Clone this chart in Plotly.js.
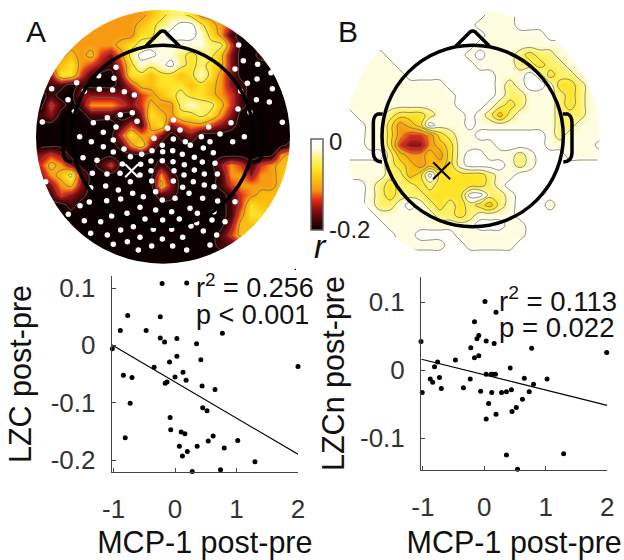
<!DOCTYPE html>
<html><head><meta charset="utf-8"><script src="https://cdn.plot.ly/plotly-3.0.1.min.js"></script>
<style>html,body{margin:0;padding:0;background:#fff}</style></head>
<body><div id="chart" style="width:624px;height:560px"></div>
<script>
// Topographic maps: each digit is a level, 0 = r of 0 (white) ... 9 = r of -0.2 (black)
const mapARows = [
"55555555555432235567777777","55555555554321002456777777","55555555553310001358999999","55555555432111111226999999",
"55545467520011232247998888","65435678631210232347999988","77336899733433431357999999","88898999864433343457899999",
"98997777786543233456899999","96898555676455212246899999","87999888997345332357999999","99999999868437655678999999",
"99999999635579879999999999","99999999853799999999999998","76799999999999999999999954","64579986999989999975686544",
"75427999999958999985575544","87547999999947999986555544","98678999999988999998654444","99989999999999999998634444",
"99999999999999999998533444","99999999999999999997444444","99999999999999999986444444","99999999999999999988766666",
"99999999999999999999999999","99999999999999999999999999"];
const mapBRows = [
"00000000000000111000000000","00000000000001111000000000","00000000000000111111000000","00000000000001111111111000",
"00110000000010111232211000","00111000000001111223221100","01111100000000011101322110","01111111110000012100133211",
"11111111111000012211123211","11111111111000123211123211","01112333211101242111122211","00113543011101111111122111",
"00113566532110000000121111","00113677543111100000111110","00002455453100111210001111","11112345443100001210000000",
"11112243033333211000000000","00123223233333210000000000","00123222333300221000000000","00122101232323421000100000",
"00011111122321111000000000","00001111111110001100000000","00000110000111111100000000","00000111110011111000000000",
"00000000000000000000000000","00000000000000000000000000"];
const mapAX = Array.from({length:26},(_,i)=>123+30*i);
const mapBX = Array.from({length:26},(_,i)=>150+30*i);
const mapY = Array.from({length:26},(_,j)=>45+30*j);

// Electrodes marked in map A
const dotX = [716,730,773,705,813,771,742,817,722,769,808,714,750,847,693,733,698,660,348,296,342,230,155,298,338,253,373,403,204,223,397,361,322,411,127,280,348,310,239,274,340,310,372,340,249,291,391,425,456,487,462,520,503,540,520,556,604,626,630,571,610,640,488,518,547,583,607,645,519,553,583,613,652,422,453,487,367,360,321,277,420,453,522,552,580,613,642,391,317,272,355,455,520,548,467,398,430,525,487,567,608,653,705,320,362,268,240,420,467,381,515,570,335,205,592,642,435,488,538,302,253,400,590,636,675,362,460,515,573,322,272,610,650,420,487,548,382,340,455,518,415,560,630,137];
const dotY = [135,182,193,207,218,237,250,266,273,299,306,327,337,367,368,410,425,402,202,227,235,248,266,268,270,274,275,285,299,335,338,344,353,364,366,368,381,397,410,425,420,440,447,456,473,481,470,463,452,436,415,360,385,390,417,425,410,381,425,436,444,458,455,452,463,472,486,490,485,494,510,522,522,493,483,482,492,520,522,520,525,512,512,525,545,555,560,545,558,563,570,543,543,562,575,580,590,595,600,580,595,603,605,602,597,606,617,622,630,640,635,625,648,643,640,635,657,660,657,665,662,680,668,660,665,690,688,688,678,705,700,693,705,712,717,712,725,733,738,738,750,750,735,545];
const crossA = {x:[395], y:[512]};
const crossB = {x:[425], y:[512]};

// Scatter A
const lzcX = [-1.04,-0.21,0.19,-0.77,-0.24,-0.89,-0.47,0.77,-0.24,-0.17,0.03,0.35,-1.02,0.03,-0.09,0.42,-0.34,2.0,-0.84,-0.70,0,0.13,0.18,-0.13,-0.16,0.44,0.65,-0.73,0.45,0.52,-0.08,-0.07,-0.81,0.10,0.16,0.62,0.54,1.02,0.07,0.36,0.80,0.20,0.12,1.30,0.28,0.74];
const lzcY = [0.118,0.108,0.109,0.052,0.050,0.026,0.026,0.021,0.013,0.006,0.012,0.003,-0.006,-0.019,-0.029,-0.025,-0.038,-0.037,-0.052,-0.056,-0.055,-0.047,-0.061,-0.064,-0.066,-0.071,-0.077,-0.101,-0.109,-0.114,-0.126,-0.147,-0.161,-0.151,-0.154,-0.158,-0.167,-0.166,-0.176,-0.176,-0.179,-0.185,-0.193,-0.203,-0.220,-0.217];
const lzcFitX = [-1.03,2], lzcFitY = [0.001,-0.19];
// Scatter B
const lzcnX = [-0.24,0.01,0.19,-0.16,-0.09,-0.12,-1.03,0.03,0.16,-0.22,0.77,1.99,-0.09,-0.16,-0.47,-0.76,-0.81,0.42,0.03,0.11,0.14,0.18,-0.73,-0.88,-0.84,-0.23,0.65,1.02,0.80,-0.70,-0.34,-0.06,0.12,0.28,0.36,0.44,0.73,-1.01,0.62,0.07,0.52,0.45,0.19,0.03,0.36,1.29,0.54];
const lzcnY = [0.138,0.101,0.085,0.071,0.051,0.046,0.042,0.043,0.039,0.033,0.032,0.026,0.021,0.018,0.015,0.012,0.005,0.003,-0.006,-0.006,-0.006,-0.006,-0.011,-0.013,-0.018,-0.013,-0.012,-0.013,-0.021,-0.027,-0.026,-0.031,-0.033,-0.033,-0.032,-0.029,-0.032,-0.033,-0.043,-0.049,-0.055,-0.061,-0.065,-0.072,-0.125,-0.123,-0.146];
const lzcnFitX = [-1.02,2], lzcnFitY = [0.016,-0.052];

const xTicks = [-1,0,1,2];
const font = 'Liberation Sans, Arial, sans-serif';
const heat = [[0,'#0c0000'],[0.11,'#400808'],[0.22,'#8a0f15'],[0.33,'#e02a18'],[0.44,'#f79a12'],[0.56,'#fcc010'],[0.67,'#fee428'],[0.78,'#fdf270'],[0.89,'#fffde0'],[1,'#ffffff']];
const toZ = rows => rows.map(r => r.split('').map(d => -Number(d)/45));

function mapTraces(rows, xs, xa, ya, lineStart, lineEnd, lineSize, showBar){
  const z = toZ(rows);
  const tr = [{type:'heatmap', x:xs, y:mapY, z, xaxis:xa, yaxis:ya, zmin:-0.2, zmax:0, zsmooth:'best', colorscale:heat, showscale:showBar,
    colorbar: showBar ? {thickness:12, thicknessmode:'pixels', len:91, lenmode:'pixels', x:311/624, xanchor:'left', y:1-139/560, yanchor:'top', xpad:0, ypad:0,
      tickmode:'array', tickvals:[-0.006,-0.2], ticktext:['0','-0.2'], ticks:'', ticklabelstandoff:8, outlinecolor:'#666', outlinewidth:1.5, tickfont:{family:font,size:24,color:'#222'}} : undefined},
    {type:'contour', x:xs, y:mapY, z, xaxis:xa, yaxis:ya, showscale:false, autocontour:false, contours:{coloring:'none', start:lineStart, end:lineEnd, size:lineSize},
      line:{color:'#666', width:0.7, smoothing:1.2}}];
  return tr;
}
function headShapes(xr, yr, cx, cy, dcx, dcy){
  const s = {xref:xr, yref:yr, layer:'above'};
  const black = {color:'#000', width:3.5};
  const R = 272;
  return [
    Object.assign({type:'circle', x0:dcx-471, x1:dcx+471, y0:dcy-471, y1:dcy+471, line:{color:'#fff', width:60}, fillcolor:'rgba(0,0,0,0)'}, s),
    Object.assign({type:'circle', x0:cx-R, x1:cx+R, y0:cy-R, y1:cy+R, line:black, fillcolor:'rgba(0,0,0,0)'}, s),
    Object.assign({type:'path', path:`M${cx-50},${cy-270} L${cx-8},${cy-312} Q${cx},${cy-318} ${cx+8},${cy-312} L${cx+50},${cy-270}`, line:black}, s),
    Object.assign({type:'path', path:`M${cx-270},${cy-66} L${cx-285},${cy-66} Q${cx-298},${cy-60} ${cx-298},${cy-40} L${cx-298},${cy+50} Q${cx-298},${cy+76} ${cx-272},${cy+78}`, line:black}, s),
    Object.assign({type:'path', path:`M${cx+270},${cy-66} L${cx+285},${cy-66} Q${cx+298},${cy-60} ${cx+298},${cy-40} L${cx+298},${cy+50} Q${cx+298},${cy+76} ${cx+272},${cy+78}`, line:black}, s)
  ];
}
const traces = [
  ...mapTraces(mapARows, mapAX, 'x', 'y', -8.5/45, -0.5/45, 2/45, false),
  {type:'scatter', mode:'markers', x:dotX, y:dotY, xaxis:'x', yaxis:'y', marker:{color:'#fff', size:5.5}},
  {type:'scatter', mode:'markers', x:crossA.x, y:crossA.y, xaxis:'x', yaxis:'y', marker:{symbol:'x-thin-open', color:'#fff', size:13, line:{color:'#fff', width:2}}},
  ...mapTraces(mapBRows, mapBX, 'x2', 'y2', -7.5/45, -0.5/45, 1/45, true),
  {type:'scatter', mode:'markers', x:crossB.x, y:crossB.y, xaxis:'x2', yaxis:'y2', marker:{symbol:'x-thin-open', color:'#000', size:17, line:{color:'#000', width:2}}},
  {type:'scatter', mode:'markers', x:lzcX, y:lzcY, xaxis:'x3', yaxis:'y3', cliponaxis:false, marker:{color:'#000', size:5}},
  {type:'scatter', mode:'lines', x:lzcFitX, y:lzcFitY, xaxis:'x3', yaxis:'y3', cliponaxis:false, line:{color:'#000', width:1.2}},
  {type:'scatter', mode:'markers', x:lzcnX, y:lzcnY, xaxis:'x4', yaxis:'y4', cliponaxis:false, marker:{color:'#000', size:5}},
  {type:'scatter', mode:'lines', x:lzcnFitX, y:lzcnFitY, xaxis:'x4', yaxis:'y4', cliponaxis:false, line:{color:'#000', width:1.2}}
];
const topAxis = d => ({domain:d, range:[0,930], visible:false, fixedrange:true});
const plainAxis = {showgrid:false, zeroline:false, showline:true, linecolor:'#444', linewidth:1, ticks:'inside', ticklen:4, tickcolor:'#444', tickfont:{family:font,size:26,color:'#333'}, automargin:false};
const xAx = (dom, ya, rng) => Object.assign({}, plainAxis, {domain:dom, anchor:ya, range:rng, tickmode:'array', tickvals:xTicks, ticktext:['-1','0','1','2'], ticklabelstandoff:14,
  title:{text:'MCP-1 post-pre', font:{family:font,size:30.5,color:'#111'}, standoff:10}});
const yAx = (dom, xa, rng, vals, txt, title, so) => Object.assign({}, plainAxis, {domain:dom, anchor:xa, range:rng, tickmode:'array', tickvals:vals, ticktext:txt, ticklabelstandoff:10,
  title:{text:title, font:{family:font,size:30.5,color:'#111'}, standoff:so}});
const ann = (t, x, y, size, extra) => Object.assign({text:t, xref:'paper', yref:'paper', x:x/624, y:1-y/560, xanchor:'left', yanchor:'middle', showarrow:false, font:{family:font,size:size,color:'#111'}}, extra||{});
const layout = {
  width:624, height:560, margin:{l:0,r:0,t:0,b:0}, paper_bgcolor:'#fff', plot_bgcolor:'rgba(0,0,0,0)', showlegend:false, font:{family:font},
  xaxis:Object.assign(topAxis([0,310/624]),{anchor:'y'}),
  yaxis:Object.assign({domain:[1-270/560,1], range:[810,0], visible:false, fixedrange:true},{anchor:'x'}),
  xaxis2:Object.assign(topAxis([300/624,610/624]),{anchor:'y2'}),
  yaxis2:{domain:[1-270/560,1], range:[810,0], visible:false, fixedrange:true, anchor:'x2'},
  xaxis3:xAx([111.7/624,298/624],'y3',[-1.03,2]),
  yaxis3:yAx([1-472/560,1-276/560],'x3',[-0.2209,0.121],[0.1,0,-0.1,-0.2],['0.1','0','-0.1','-0.2'],'LZC post-pre',10),
  xaxis4:xAx([421/624,607.3/624],'y4',[-1.03,2]),
  yaxis4:yAx([1-470/560,1-277/560],'x4',[-0.147,0.137],[0.1,0,-0.1],['0.1','0','-0.1'],'LZCn post-pre',6),
  shapes:[...headShapes('x','y',488,408,489,410), ...headShapes('x2','y2',518,408,518,410)],
  annotations:[
    ann('A',24,31,30), ann('B',336,31,30),
    ann('<i>r</i>',312,246,34),
    ann('r<sup>2</sup> = 0.256',194,286,27), ann('p &lt; 0.001',194,315,27),
    ann('r<sup>2</sup> = 0.113',497,299,27.5), ann('p = 0.022',497,327,27.5)
  ]
};
Plotly.newPlot('chart', traces, layout, {displayModeBar:false, staticPlot:true});
</script></body></html>
